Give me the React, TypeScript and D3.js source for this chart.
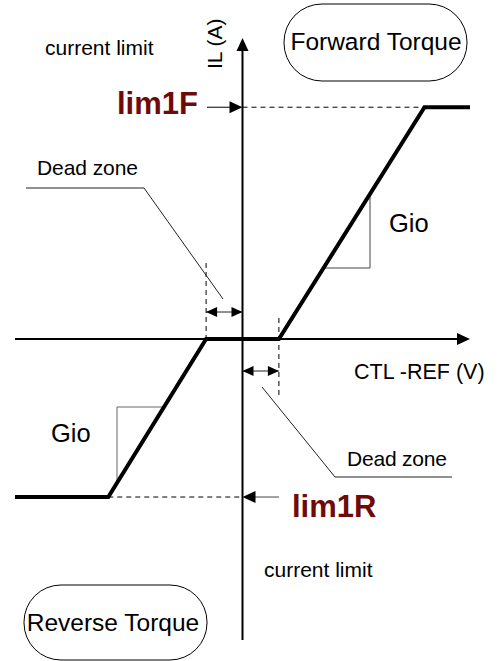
import React from 'react';
import * as d3 from 'd3';

// transfer curve: CTL-REF (V) -> IL (A)
const ctlRef = [-10, -5.9, -1.6, 1.6, 8.0, 10];
const il = [-5.25, -5.25, 0, 0, 7.7, 7.7];

const deadZone = [-1.6, 1.6];
const limF = 7.7;
const limR = -5.25;

const labels = {
  xAxis: 'CTL -REF (V)',
  yAxis: 'IL (A)',
  limF: 'lim1F',
  limR: 'lim1R',
  slope: 'Gio',
  dead: 'Dead zone',
  limit: 'current limit',
  fwd: 'Forward Torque',
  rev: 'Reverse Torque',
};

const W = 499;
const H = 661;
const font = '"Liberation Sans", Arial, sans-serif';
const darkRed = '#6e0a0a';

const x = d3.scaleLinear().domain([-10, 10]).range([15, 470]);
const y = d3.scaleLinear().domain([-10, 10]).range([640, 38]);

// filled arrow head path, tip at (tx,ty), pointing in direction dir
function head(tx: number, ty: number, dir: 'up' | 'down' | 'left' | 'right', len = 13, half = 6) {
  if (dir === 'up') return `M${tx},${ty} L${tx - half},${ty + len} L${tx + half},${ty + len} Z`;
  if (dir === 'down') return `M${tx},${ty} L${tx - half},${ty - len} L${tx + half},${ty - len} Z`;
  if (dir === 'left') return `M${tx},${ty} L${tx + len},${ty - half} L${tx + len},${ty + half} Z`;
  return `M${tx},${ty} L${tx - len},${ty - half} L${tx - len},${ty + half} Z`;
}

function DoubleArrow({ x1, x2, yy }: { x1: number; x2: number; yy: number }) {
  return (
    <g>
      <line x1={x1} x2={x2} y1={yy} y2={yy} stroke="#222" strokeWidth={1} />
      <path d={head(x1, yy, 'left', 11, 5)} fill="#000" />
      <path d={head(x2, yy, 'right', 11, 5)} fill="#000" />
    </g>
  );
}

export default function App() {
  const pts = ctlRef.map((v, i) => [x(v), y(il[i])] as [number, number]);
  const curve = d3.line()(pts) || '';
  const x0 = x(0);
  const y0 = y(0);
  const xdL = x(deadZone[0]);
  const xdR = x(deadZone[1]);
  const yF = y(limF);
  const yR = y(limR);

  // slope triangles sit on the diagonal segments
  const k = (pts[4][1] - pts[3][1]) / (pts[4][0] - pts[3][0]);
  const upTriX = 370;
  const upTriY = 268;
  const upTriX0 = pts[3][0] + (upTriY - pts[3][1]) / k;
  const upTriY0 = pts[3][1] + (upTriX - pts[3][0]) * k;
  const k2 = (pts[2][1] - pts[1][1]) / (pts[2][0] - pts[1][0]);
  const loTriX = 117;
  const loTriY = 407;
  const loTriX1 = pts[1][0] + (loTriY - pts[1][1]) / k2;
  const loTriY1 = pts[1][1] + (loTriX - pts[1][0]) * k2;

  return (
    <svg width={W} height={H} style={{ position: 'absolute', left: 0, top: 0, background: '#fff' }}
      fontFamily={font}>
      {/* pill boxes */}
      <rect x={284} y={4} width={183} height={77} rx={38} ry={38} fill="none" stroke="#000" strokeWidth={1} />
      <text x={376} y={50} fontSize={24.5} textAnchor="middle">{labels.fwd}</text>
      <rect x={24} y={585} width={183} height={75} rx={37} ry={37} fill="none" stroke="#000" strokeWidth={1} />
      <text x={113} y={631} fontSize={24.5} textAnchor="middle">{labels.rev}</text>

      {/* guide dashes */}
      <line x1={x0} x2={pts[4][0]} y1={yF} y2={yF} stroke="#000" strokeWidth={1} strokeDasharray="5,4" />
      <line x1={pts[1][0]} x2={x0} y1={yR} y2={yR} stroke="#000" strokeWidth={1} strokeDasharray="5,4" />
      <line x1={xdL} x2={xdL} y1={263} y2={y0} stroke="#000" strokeWidth={1} strokeDasharray="5,4" />
      <line x1={xdR} x2={xdR} y1={318} y2={398} stroke="#000" strokeWidth={1} strokeDasharray="5,4" />

      {/* axes */}
      <line x1={x(-10)} x2={x(10) - 10} y1={y0} y2={y0} stroke="#000" strokeWidth={2} />
      <path d={head(x(10), y0, 'right')} fill="#000" />
      <line x1={x0} x2={x0} y1={y(-10)} y2={y(10) + 10} stroke="#000" strokeWidth={2} />
      <path d={head(x0, y(10), 'up')} fill="#000" />

      {/* slope triangles */}
      <polyline points={`${upTriX},${upTriY0} ${upTriX},${upTriY} ${upTriX0},${upTriY}`}
        fill="none" stroke="#444" strokeWidth={1} />
      <polyline points={`${loTriX},${loTriY1} ${loTriX},${loTriY} ${loTriX1},${loTriY}`}
        fill="none" stroke="#666" strokeWidth={1} />

      {/* transfer curve */}
      <path d={curve} fill="none" stroke="#000" strokeWidth={4} strokeLinejoin="miter" />

      {/* limit arrows */}
      <line x1={207} x2={x0 - 10} y1={yF} y2={yF} stroke="#000" strokeWidth={1} />
      <path d={head(x0, yF, 'right', 13, 6)} fill="#000" />
      <line x1={x0 + 10} x2={279} y1={yR} y2={yR} stroke="#444" strokeWidth={1} />
      <path d={head(x0, yR, 'left', 13, 6)} fill="#000" />

      {/* dead zone arrows */}
      <DoubleArrow x1={xdL} x2={x0} yy={312} />
      <DoubleArrow x1={x0} x2={xdR} yy={371} />

      {/* leader lines */}
      <polyline points={`26,188 144,188 223,299`} fill="none" stroke="#222" strokeWidth={1} />
      <polyline points={`262,387 335,477 452,477`} fill="none" stroke="#222" strokeWidth={1} />

      {/* labels */}
      <text x={37} y={175} fontSize={21} textLength={101}>{labels.dead}</text>
      <text x={347} y={466} fontSize={21} textLength={100}>{labels.dead}</text>
      <text x={354} y={379} fontSize={21.5}>{labels.xAxis}</text>
      <text transform="translate(222,69) rotate(-90)" fontSize={21}>{labels.yAxis}</text>
      <text x={45} y={55} fontSize={21}>{labels.limit}</text>
      <text x={264} y={577} fontSize={21}>{labels.limit}</text>
      <text x={389} y={232} fontSize={25.5}>{labels.slope}</text>
      <text x={51} y={442} fontSize={25.5}>{labels.slope}</text>
      <text x={117} y={114} fontSize={31} fontWeight="bold" fill={darkRed}>{labels.limF}</text>
      <text x={292} y={517} fontSize={31} fontWeight="bold" fill={darkRed}>{labels.limR}</text>
    </svg>
  );
}
